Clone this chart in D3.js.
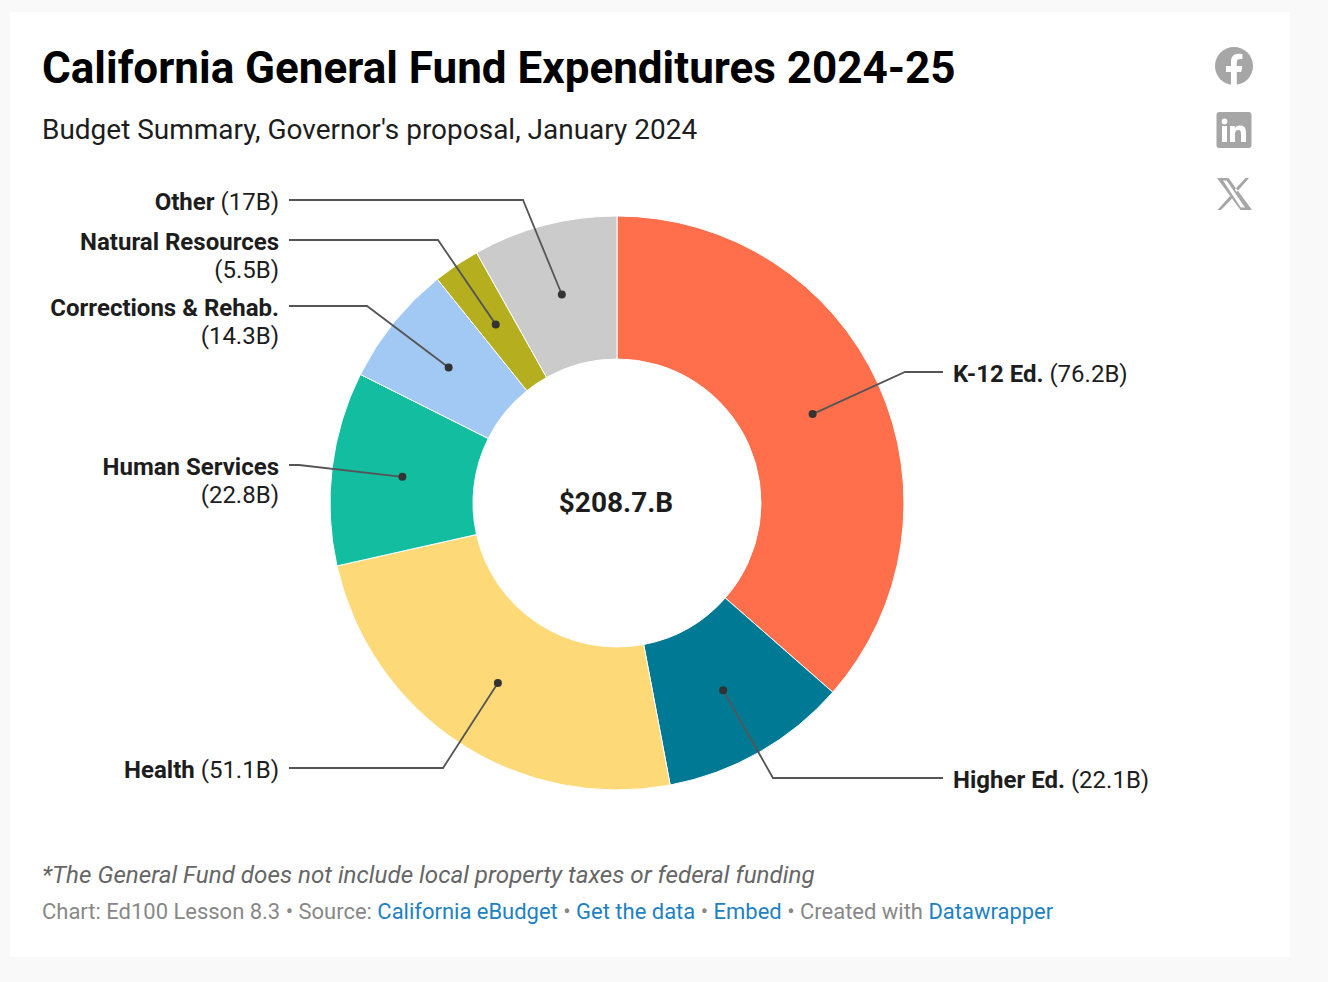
<!DOCTYPE html>
<html>
<head>
<meta charset="utf-8">
<script src="https://cdn.jsdelivr.net/npm/d3@7"></script>
<style>
html, body { margin: 0; padding: 0; background: #f9f9f9; }
svg { display: block; font-family: Roboto, sans-serif; }
</style>
</head>
<body>
<svg id="chart" width="1328" height="982"></svg>
<script>
const categories = ['K-12 Ed.', 'Higher Ed.', 'Health', 'Human Services', 'Corrections & Rehab.', 'Natural Resources', 'Other'];
const values = [76.2, 22.1, 51.1, 22.8, 14.3, 5.5, 17];
const valueLabels = ['76.2B', '22.1B', '51.1B', '22.8B', '14.3B', '5.5B', '17B'];
const colors = ['#ff6f4b', '#007a94', '#fdd978', '#12bda0', '#a1c9f4', '#b5ae1f', '#cbcbcb'];
const totalLabel = '$208.7.B';

// label placement: y of the leader, x of its elbow, side, and whether the value wraps
const leaderY = [372, 778, 768, 465, 306, 240, 200];
const elbowX = [905, 773, 443, 299, 367, 438, 523];
const wraps = [false, false, false, true, true, true, false];

const svg = d3.select('#chart');
const cx = 617, cy = 503, outerR = 287, innerR = 144;

svg.append('rect').attr('x', 10).attr('y', 12).attr('width', 1280).attr('height', 945).attr('fill', '#fff');

svg.append('text').attr('x', 42).attr('y', 83).attr('font-size', 44).attr('font-weight', 700)
    .attr('fill', '#000').text('California General Fund Expenditures 2024-25');
svg.append('text').attr('x', 42).attr('y', 139).attr('font-size', 27.97).attr('fill', '#1d1d1d')
    .text("Budget Summary, Governor's proposal, January 2024");

const pie = d3.pie().sort(null)(values);
const arc = d3.arc().innerRadius(innerR).outerRadius(outerR);
const g = svg.append('g').attr('transform', `translate(${cx},${cy})`);

g.selectAll('path').data(pie).join('path')
    .attr('d', arc)
    .attr('fill', (d, i) => colors[i])
    .attr('stroke', '#fff')
    .attr('stroke-width', 1);

svg.append('text').attr('x', cx - 1).attr('y', 512).attr('text-anchor', 'middle')
    .attr('font-size', 28).attr('font-weight', 700).attr('fill', '#1d1d1d').text(totalLabel);

const line = d3.line();
pie.forEach((d, i) => {
    const c = arc.centroid(d);
    const dot = [c[0] + cx - 0.7, c[1] + cy];
    const right = dot[0] > cx + 50;
    const endX = right ? 943 : 289;
    svg.append('path')
        .attr('d', line([dot, [elbowX[i], leaderY[i]], [endX, leaderY[i]]]))
        .attr('fill', 'none').attr('stroke', '#555').attr('stroke-width', 1.8);
    svg.append('circle').attr('cx', dot[0]).attr('cy', dot[1]).attr('r', 4).attr('fill', '#333');

    const textX = right ? 953 : 279;
    const t = svg.append('text').attr('x', textX).attr('y', leaderY[i] + 9.5)
        .attr('text-anchor', right ? 'start' : 'end')
        .attr('font-size', 24).attr('fill', '#1d1d1d');
    t.append('tspan').attr('font-weight', 700).text(categories[i]);
    if (wraps[i]) {
        t.append('tspan').attr('x', textX).attr('dy', 28.5).text('(' + valueLabels[i] + ')');
    } else {
        t.append('tspan').text(' (' + valueLabels[i] + ')');
    }
});

svg.append('text').attr('x', 42).attr('y', 883).attr('font-size', 24.2).attr('font-style', 'italic')
    .attr('fill', '#666').text('*The General Fund does not include local property taxes or federal funding');

const grey = '#888', blue = '#1d81c2';
const footer = svg.append('text').attr('x', 42).attr('y', 919).attr('font-size', 21.98);
[['Chart: Ed100 Lesson 8.3 • Source: ', grey], ['California eBudget', blue], [' • ', grey], ['Get the data', blue],
 [' • ', grey], ['Embed', blue], [' • Created with ', grey], ['Datawrapper', blue]].forEach(p => {
    footer.append('tspan').attr('fill', p[1]).text(p[0]);
});

// share icons
const icons = svg.append('g').attr('fill', '#a6a6a6');
icons.append('circle').attr('cx', 1234).attr('cy', 66).attr('r', 19);
icons.append('path').attr('fill', '#fff')
    .attr('d', 'M1231 85V72h-5v-6h5v-4.5c0-5 3-7.7 7.4-7.7 2.1 0 4 .3 4 .3v5h-2.4c-2.5 0-3.2 1.5-3.2 3.1V66h5.4l-.9 6h-4.500v13z');
icons.append('rect').attr('x', 1216.5).attr('y', 112).attr('width', 35).attr('height', 36).attr('rx', 3);
icons.append('path').attr('fill', '#fff').attr('fill-rule', 'evenodd')
    .attr('d', 'M1222 126h5v16h-5zM1224.500 118.500a2.900 2.900 0 1 1 0 5.800 2.900 2.900 0 0 1 0-5.800zM1230 126h4.800v2.200c.8-1.400 2.500-2.600 5-2.600 5 0 6.200 3 6.200 7.600V142h-5v-7.800c0-2-.3-4.100-2.700-4.100s-3.300 1.800-3.300 4V142h-5z');
icons.append('path').attr('fill-rule', 'evenodd')
    .attr('d', 'M1217 178h11.500l23.500 32h-11.500zM1223 180.500l17.800 27h4.200l-18.400-27zM1245.500 178h3.500l-12.200 14-2-2.600zM1230 196l2 2.600L1221 210h-3.500z');
</script>
</body>
</html>
